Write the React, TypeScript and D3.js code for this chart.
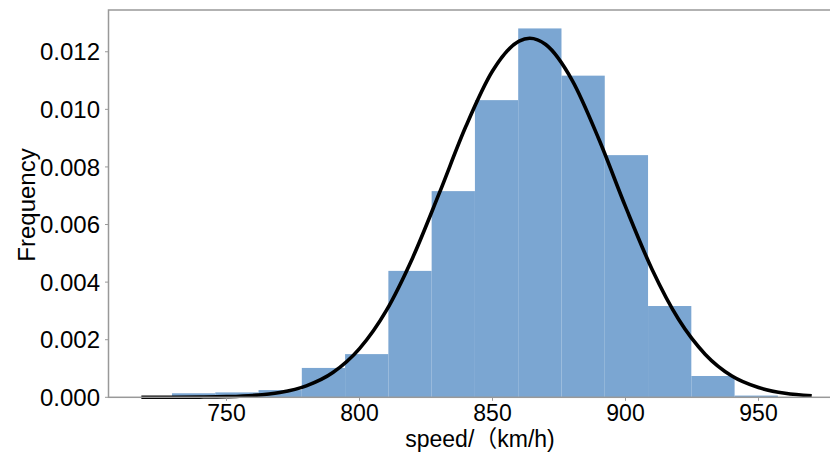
import React from "react";
import * as d3 from "d3";

// Histogram bins (km/h) and density values
const binStart = 729.5;
const binWidth = 16.27;
const binDensity = [0.00014, 0.00017, 0.00025, 0.00102, 0.0015, 0.00439, 0.00716, 0.01032, 0.01281, 0.01117, 0.00841, 0.00317, 0.00074, 0.00006];

// Fitted curve points
const curveX = [718, 730, 740, 750, 760, 770, 780, 790, 800, 810, 820, 830, 840, 850, 860, 864, 870, 880, 890, 900, 910, 920, 930, 940, 950, 960, 970];
const curveY = [0.0000004, 0.000002, 0.000007, 0.000022, 0.000064, 0.000167, 0.000398, 0.00086, 0.00169, 0.0030, 0.00485, 0.00709, 0.00941, 0.01133, 0.01237, 0.01247, 0.01225, 0.0110, 0.00896, 0.00662, 0.00444, 0.0027, 0.00149, 0.00074, 0.00034, 0.00014, 0.00005];

const xTicks = [750, 800, 850, 900, 950];
const yTicks = [0, 0.002, 0.004, 0.006, 0.008, 0.01, 0.012];
const xLabel = "speed/（km/h)";
const yLabel = "Frequency";

const W = 830, H = 452;
const FONT = "'Liberation Sans', 'Noto Sans CJK SC', sans-serif";

export default function App() {
  const left = 108.5, right = 844.7, top = 10, bottom = 397.3;
  const x = d3.scaleLinear().domain([705.64, 982.4]).range([left, right]);
  const y = d3.scaleLinear().domain([0, 0.01345]).range([bottom, top]);
  const line = d3
    .line<number>()
    .x((_, i) => x(curveX[i]))
    .y((d) => y(d))
    .curve(d3.curveMonotoneX);
  const spine = "#999";
  return (
    <svg width={W} height={H} style={{ position: "absolute", left: 0, top: 0, background: "#fff" }}>
      <rect x={0} y={0} width={W} height={H} fill="#fff" />
      {binDensity.map((d, i) => {
        const x0 = binStart + i * binWidth;
        return (
          <rect
            key={i}
            x={x(x0)}
            y={y(d)}
            width={x(x0 + binWidth) - x(x0)}
            height={y(0) - y(d)}
            fill="#7ba6d2"
          />
        );
      })}
      <path d={line(curveY) || ""} fill="none" stroke="#000" strokeWidth={3.6} strokeLinejoin="round" />
      <rect x={left} y={top} width={right - left} height={bottom - top} fill="none" stroke={spine} strokeWidth={1.5} />
      {yTicks.map((t) => (
        <g key={t}>
          <line x1={left - 3.5} x2={left} y1={y(t)} y2={y(t)} stroke={spine} strokeWidth={1} />
          <text x={100} y={y(t)} dy="0.36em" textAnchor="end" fontFamily={FONT} fontSize={24} fill="#000">
            {t.toFixed(3)}
          </text>
        </g>
      ))}
      {xTicks.map((t) => (
        <g key={t}>
          <line x1={x(t)} x2={x(t)} y1={bottom} y2={bottom + 3.5} stroke={spine} strokeWidth={1} />
          <text x={x(t)} y={421} textAnchor="middle" fontFamily={FONT} fontSize={23} fill="#000">
            {t}
          </text>
        </g>
      ))}
      <text x={480} y={447} textAnchor="middle" fontFamily={FONT} fontSize={23} fill="#000">
        {xLabel}
      </text>
      <text
        transform={`translate(35,205) rotate(-90)`}
        textAnchor="middle"
        fontFamily={FONT}
        fontSize={24}
        fill="#000"
      >
        {yLabel}
      </text>
    </svg>
  );
}
